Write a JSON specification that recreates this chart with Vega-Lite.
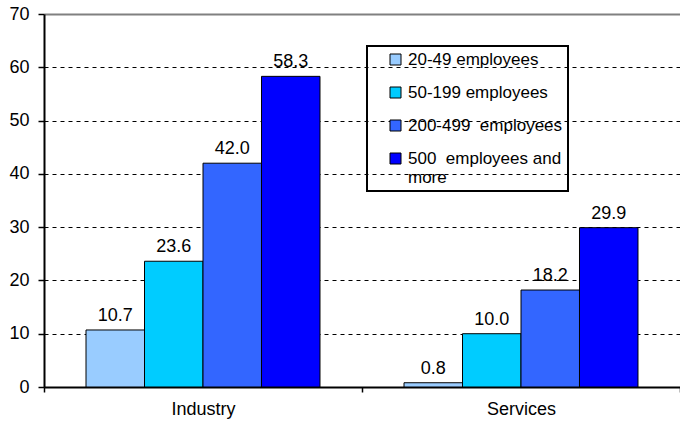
{
  "$schema": "https://vega.github.io/schema/vega-lite/v6.json",
  "width": 636,
  "height": 373,
  "autosize": {"type": "none"},
  "padding": {"left": 44, "top": 14, "right": 0, "bottom": 37},
  "background": "white",
  "data": {
    "values": [
      {"sector": "Industry", "size": "20-49 employees", "value": 10.7},
      {"sector": "Industry", "size": "50-199 employees", "value": 23.6},
      {"sector": "Industry", "size": "200-499  employees", "value": 42.0},
      {"sector": "Industry", "size": "500  employees and more", "value": 58.3},
      {"sector": "Services", "size": "20-49 employees", "value": 0.8},
      {"sector": "Services", "size": "50-199 employees", "value": 10.0},
      {"sector": "Services", "size": "200-499  employees", "value": 18.2},
      {"sector": "Services", "size": "500  employees and more", "value": 29.9}
    ]
  },
  "encoding": {
    "x": {
      "field": "sector", "type": "nominal", "sort": ["Industry", "Services"],
      "scale": {"paddingInner": 0, "paddingOuter": 0},
      "axis": {
        "title": null, "labelAngle": 0, "tickBand": "extent",
        "domainColor": "black", "domainWidth": 2, "tickColor": "black", "tickWidth": 1.5, "tickSize": 5,
        "labelFont": "Liberation Sans", "labelFontSize": 18, "labelColor": "black", "labelPadding": 8
      }
    },
    "xOffset": {
      "field": "size", "type": "nominal",
      "sort": ["20-49 employees", "50-199 employees", "200-499  employees", "500  employees and more"],
      "scale": {"paddingOuter": 0.718, "paddingInner": 0}
    },
    "y": {
      "field": "value", "type": "quantitative",
      "scale": {"domain": [0, 70], "nice": false},
      "axis": {
        "title": null, "values": [0, 10, 20, 30, 40, 50, 60, 70],
        "domainColor": "black", "domainWidth": 2, "tickColor": "black", "tickWidth": 1.5, "tickSize": 6,
        "labelFont": "Liberation Sans", "labelFontSize": 18, "labelColor": "black", "labelPadding": 9,
        "grid": true,
        "gridColor": {"condition": {"test": "datum.value === 70", "value": "#808080"}, "value": "black"},
        "gridDash": {"condition": {"test": "datum.value === 70", "value": []}, "value": [4, 4]},
        "gridWidth": {"condition": {"test": "datum.value === 70", "value": 2}, "value": 1}
      }
    }
  },
  "layer": [
    {
      "mark": {"type": "bar", "stroke": "black", "strokeWidth": 1},
      "encoding": {
        "color": {
          "field": "size", "type": "nominal",
          "sort": ["20-49 employees", "50-199 employees", "200-499  employees", "500  employees and more"],
          "scale": {
            "domain": ["20-49 employees", "50-199 employees", "200-499  employees", "500  employees and more"],
            "range": ["#99CCFF", "#00CCFF", "#3366FF", "#0000FF"]
          },
          "legend": {
            "title": null, "orient": "none", "legendX": 323, "legendY": 32,
            "symbolType": "square", "symbolSize": 121, "symbolStrokeColor": "black", "symbolStrokeWidth": 1,
            "symbolOpacity": 1, "symbolOffset": 15,
            "labelFont": "Liberation Sans", "labelFontSize": 17, "labelColor": "black", "labelOffset": 4,
            "labelLimit": 300,
            "labelExpr": "datum.label == '500  employees and more' ? ['500 \u00a0employees and', 'more'] : replace(datum.label, '  ', ' \u00a0')",
            "rowPadding": 15, "padding": 5,
            "strokeColor": "black"
          }
        }
      }
    },
    {
      "mark": {"type": "text", "dy": -9, "baseline": "alphabetic", "fontSize": 18, "font": "Liberation Sans", "color": "black"},
      "encoding": {"text": {"field": "value", "type": "quantitative", "format": ".1f"}}
    }
  ],
  "config": {
    "view": {"stroke": null},
    "legend": {"strokeWidth": 2}
  }
}
